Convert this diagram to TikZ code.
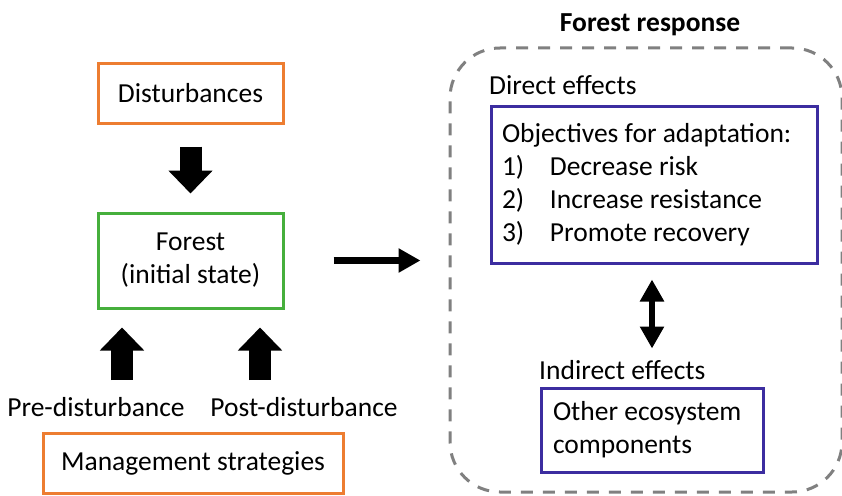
\documentclass[tikz,border=0pt]{standalone}
\usepackage{fontspec}
\setmainfont{Carlito}
\usetikzlibrary{arrows.meta,calc}
\definecolor{orangeC}{RGB}{237,125,49}
\definecolor{greenC}{RGB}{70,175,60}
\definecolor{blueC}{RGB}{60,45,160}
\definecolor{grayC}{RGB}{128,128,128}
\newcommand{\lline}[2]{\makebox[#1][l]{#2}}
\tikzset{
  obox/.style={draw=orangeC, line width=3pt, minimum width=#1, minimum height=60pt, inner sep=0pt},
  gbox/.style={draw=greenC, line width=3pt, minimum width=185pt, minimum height=95pt, align=center, inner sep=0pt},
  bbox/.style={draw=blueC, line width=3pt, align=left, inner sep=0pt},
  lbl/.style={inner sep=0pt},
  fatarrow/.style={line width=22pt, -{Triangle[width=43pt,length=23pt]}},
  thinarrow/.style={line width=6.5pt, -{Triangle[width=23pt,length=22pt]}},
  dblarrow/.style={line width=6.5pt, {Triangle[width=23pt,length=22pt]}-{Triangle[width=23pt,length=22pt]}},
}
\begin{document}
\begin{tikzpicture}[x=1pt,y=-1pt, font=\fontsize{27.5pt}{33pt}\selectfont]
\useasboundingbox (0,0) rectangle (842,495);
% left side
\node[obox=185pt] (dist) at (190.5,93) {Disturbances};
\node[gbox] (forest) at (190.5,260.5) {Forest\\(initial state)};
\node[lbl] (pre) at (96,407) {Pre-disturbance};
\node[lbl] (post) at (304,407) {Post-disturbance};
\node[obox=300pt] (mgmt) at (193,463) {Management strategies};
\coordinate (preA) at (122,380);
\coordinate (postA) at (260,380);
\draw[fatarrow, shorten <=22pt, shorten >=18pt] (dist.south) -- (forest.north);
\draw[fatarrow, shorten >=18pt] (preA) -- (forest.south -| preA);
\draw[fatarrow, shorten >=18pt] (postA) -- (forest.south -| postA);
% right side
\node[draw=grayC, line width=3pt, dash pattern=on 12pt off 10pt, rounded corners=50pt,
      minimum width=392pt, minimum height=444pt, inner sep=0pt] (resp) at (646,270) {};
\node[lbl, font=\fontsize{27.5pt}{33pt}\selectfont\bfseries] (title) at (650,25) {Forest response};
\node[lbl, anchor=west] (direct) at (489,85) {Direct effects};
\node[bbox, minimum width=326pt, minimum height=157pt] (obj) at (654,184.5)
  {\lline{304pt}{Objectives for adaptation:}\\
   \lline{304pt}{\makebox[48pt][l]{1)}Decrease risk}\\
   \lline{304pt}{\makebox[48pt][l]{2)}Increase resistance}\\
   \lline{304pt}{\makebox[48pt][l]{3)}Promote recovery}};
\node[lbl, anchor=west] (indirect) at (539,370) {Indirect effects};
\node[bbox, minimum width=222pt, minimum height=84pt] (other) at (652,430)
  {\lline{198pt}{Other ecosystem}\\\lline{198pt}{components}};
\draw[thinarrow, shorten <=49pt, shorten >=28pt] (forest.east) -- (forest.east -| resp.west);
\draw[dblarrow, shorten <=15pt, shorten >=38pt] (other.north |- obj.south) -- (other.north);
\end{tikzpicture}
\end{document}
